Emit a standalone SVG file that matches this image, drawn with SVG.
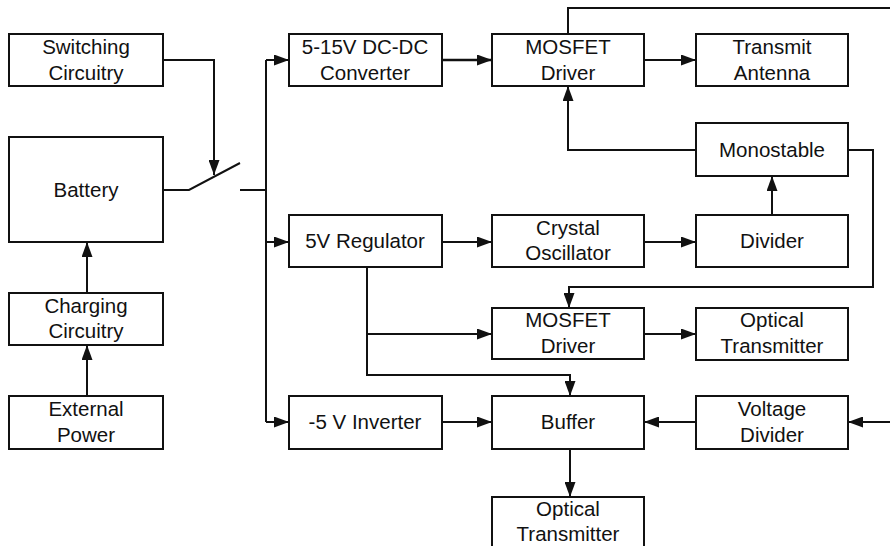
<svg xmlns="http://www.w3.org/2000/svg" width="890" height="546" viewBox="0 0 890 546">
<defs>
<style>
.box{fill:#fff;stroke:#111;stroke-width:2}
.t{font-family:"Liberation Sans",Arial,sans-serif;font-size:20.5px;fill:#111;text-anchor:middle}
.c{fill:none;stroke:#111;stroke-width:2}
.a{marker-end:url(#ah)}
</style>
<marker id="ah" markerWidth="15" markerHeight="11" refX="15" refY="5.5" orient="auto" markerUnits="userSpaceOnUse">
<path d="M0,0 L15,5.5 L0,11 z" fill="#111"/>
</marker>
</defs>
<rect width="890" height="546" fill="#fff"/>
<g id="connectors">
<path class="c a" d="M163,60 H214 V175"/>
<path class="c" d="M163,190 H189 L240,163"/>
<path class="c" d="M240,190 H266"/>
<path class="c" d="M266,60 V422"/>
<path class="c a" d="M266,60 H289"/>
<path class="c a" d="M266,242 H289"/>
<path class="c a" d="M266,422 H289"/>
<path class="c a" d="M87,293 V242"/>
<path class="c a" d="M87,396 V345"/>
<path class="c a" d="M442,60 H492" style="stroke-width:2.5"/>
<path class="c a" d="M644,60 H696"/>
<path class="c" d="M568,34 V8 H890"/>
<path class="c a" d="M696,150 H568 V86"/>
<path class="c a" d="M772,215 V176"/>
<path class="c a" d="M442,242 H492"/>
<path class="c a" d="M644,242 H696"/>
<path class="c a" d="M848,150 H873 V287 H569 V308"/>
<path class="c a" d="M367,267 V375 H570 V396"/>
<path class="c a" d="M367,334 H492"/>
<path class="c a" d="M644,334 H696"/>
<path class="c a" d="M442,422 H492"/>
<path class="c a" d="M696,422 H644"/>
<path class="c a" d="M890,422 H848"/>
<path class="c a" d="M570,449 V497"/>
</g>
<g id="switching"><rect class="box" x="9" y="34" width="154" height="52"/><text class="t" x="86" y="54">Switching</text><text class="t" x="86" y="80">Circuitry</text></g>
<g id="battery"><rect class="box" x="9" y="137" width="154" height="105"/><text class="t" x="86" y="197">Battery</text></g>
<g id="charging"><rect class="box" x="9" y="293" width="154" height="52"/><text class="t" x="86" y="313">Charging</text><text class="t" x="86" y="338">Circuitry</text></g>
<g id="external"><rect class="box" x="9" y="396" width="154" height="53"/><text class="t" x="86" y="416">External</text><text class="t" x="86" y="442">Power</text></g>
<g id="dcdc"><rect class="box" x="289" y="34" width="153" height="52"/><text class="t" x="365" y="54">5-15V DC-DC</text><text class="t" x="365" y="80">Converter</text></g>
<g id="mosfet1"><rect class="box" x="492" y="34" width="152" height="52"/><text class="t" x="568" y="54">MOSFET</text><text class="t" x="568" y="80">Driver</text></g>
<g id="antenna"><rect class="box" x="696" y="34" width="152" height="52"/><text class="t" x="772" y="54">Transmit</text><text class="t" x="772" y="80">Antenna</text></g>
<g id="monostable"><rect class="box" x="696" y="123" width="152" height="53"/><text class="t" x="772" y="157">Monostable</text></g>
<g id="regulator"><rect class="box" x="289" y="215" width="153" height="52"/><text class="t" x="365" y="248">5V Regulator</text></g>
<g id="crystal"><rect class="box" x="492" y="215" width="152" height="52"/><text class="t" x="568" y="235">Crystal</text><text class="t" x="568" y="260">Oscillator</text></g>
<g id="divider"><rect class="box" x="696" y="215" width="152" height="52"/><text class="t" x="772" y="248">Divider</text></g>
<g id="mosfet2"><rect class="box" x="492" y="308" width="152" height="51"/><text class="t" x="568" y="327">MOSFET</text><text class="t" x="568" y="353">Driver</text></g>
<g id="optical1"><rect class="box" x="696" y="308" width="152" height="52"/><text class="t" x="772" y="327">Optical</text><text class="t" x="772" y="353">Transmitter</text></g>
<g id="inverter"><rect class="box" x="289" y="396" width="153" height="53"/><text class="t" x="365" y="429">-5 V Inverter</text></g>
<g id="buffer"><rect class="box" x="492" y="396" width="152" height="53"/><text class="t" x="568" y="429">Buffer</text></g>
<g id="vdivider"><rect class="box" x="696" y="396" width="152" height="53"/><text class="t" x="772" y="416">Voltage</text><text class="t" x="772" y="442">Divider</text></g>
<g id="optical2"><rect class="box" x="492" y="497" width="152" height="60"/><text class="t" x="568" y="516">Optical</text><text class="t" x="568" y="541">Transmitter</text></g>
</svg>
